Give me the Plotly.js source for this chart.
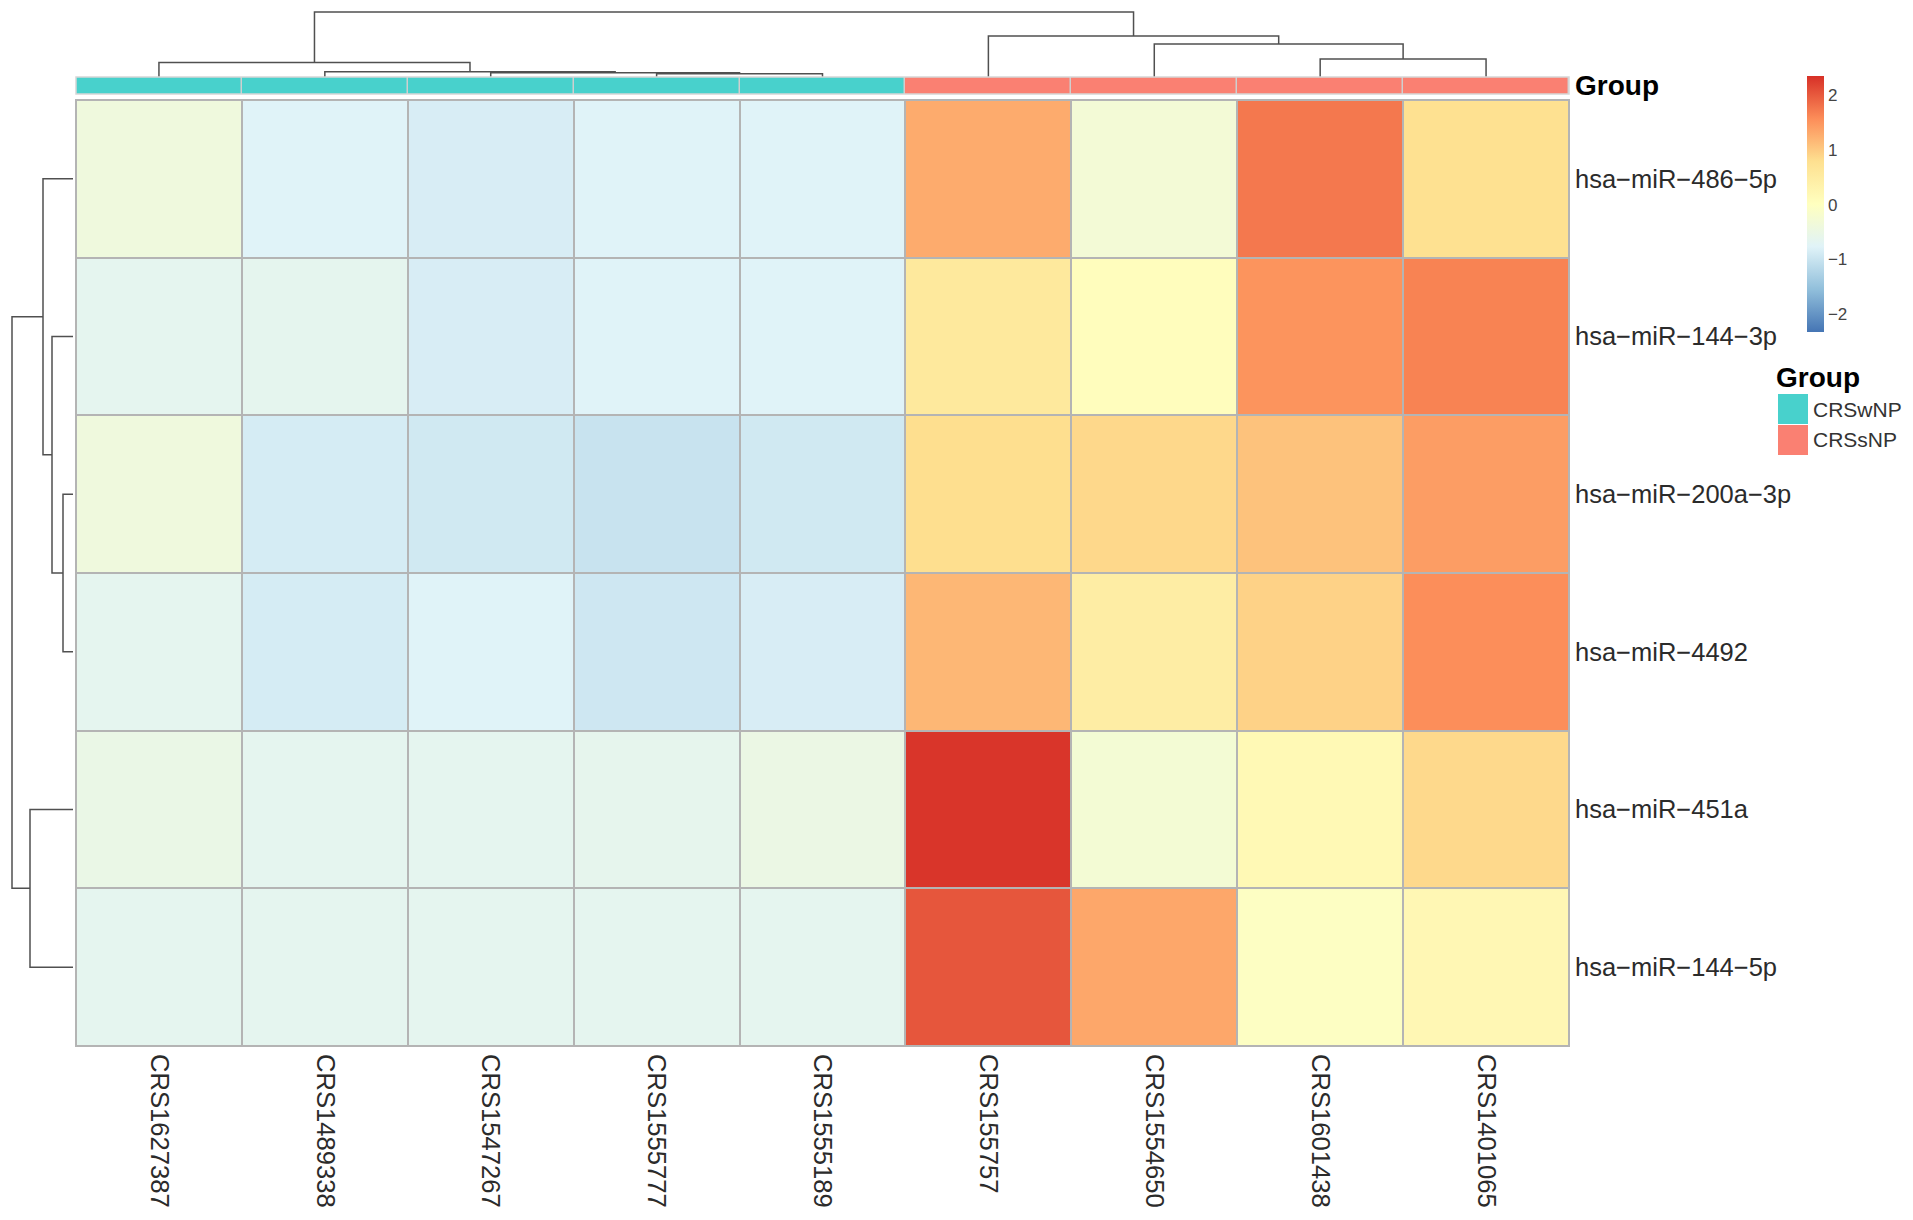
<!DOCTYPE html>
<html>
<head>
<meta charset="utf-8">
<script src="https://cdn.plot.ly/plotly-3.0.1.min.js"></script>
<style>html,body{margin:0;padding:0;background:#fff;}#chart{width:1913px;height:1220px;}</style>
</head>
<body>
<div id="chart"></div>
<script>
// ---------------- data ----------------
const colNames = ['CRS1627387','CRS1489338','CRS1547267','CRS1555777','CRS1555189','CRS155757','CRS1554650','CRS1601438','CRS1401065'];
const colGroups = ['CRSwNP','CRSwNP','CRSwNP','CRSwNP','CRSwNP','CRSsNP','CRSsNP','CRSsNP','CRSsNP'];
const groupNames = ['CRSwNP','CRSsNP'];
const groupColors = ['#48D1CC','#FA8072'];
const rowNames = ['hsa\u2212miR\u2212486\u22125p','hsa\u2212miR\u2212144\u22123p','hsa\u2212miR\u2212200a\u22123p','hsa\u2212miR\u22124492','hsa\u2212miR\u2212451a','hsa\u2212miR\u2212144\u22125p'];

const miR486_5p  = [-0.40,-0.77,-0.85,-0.77,-0.77, 1.28,-0.30, 1.74, 0.77];
const miR144_3p  = [-0.65,-0.63,-0.85,-0.77,-0.77, 0.57, 0.05, 1.50, 1.65];
const miR200a_3p = [-0.40,-0.87,-0.92,-1.00,-0.92, 0.80, 0.86, 1.07, 1.41];
const miR4492    = [-0.65,-0.87,-0.77,-0.94,-0.85, 1.17, 0.45, 0.92, 1.55];
const miR451a    = [-0.52,-0.65,-0.65,-0.62,-0.50, 2.30,-0.28, 0.17, 0.85];
const miR144_5p  = [-0.65,-0.65,-0.65,-0.65,-0.65, 2.02, 1.32,-0.05, 0.20];

// hclust-style merges: negative = leaf (1-based, display order), positive = earlier merge
const colMergeA = [-4,-3,-2,-1,-8,-7,-6,4];
const colMergeB = [-5, 1, 2, 3,-9, 5, 6,7];
const colHeights = [3.3,4.2,5.2,14.5,18,33,41,65];
const rowMergeA = [-3,-2,-1,-5,3];
const rowMergeB = [-4, 1, 2,-6,4];
const rowHeights = [10,21,30,43,61];

const colorbarTicks = [-2,-1,0,1,2];
const paletteRdYlBu = ['#4575B4','#91BFDB','#E0F3F8','#FFFFBF','#FEE090','#FC8D59','#D73027'];
const zMin = -2.32, zMax = 2.34;

// ---------------- helpers ----------------
function dendroSegments(A, B, H) {
  const pos = [], hgt = [];
  const p = i => i < 0 ? (-i - 1) : pos[i - 1];
  const h = i => i < 0 ? 0 : hgt[i - 1];
  const a = [], b = [];
  for (let k = 0; k < A.length; k++) {
    const pa = p(A[k]), pb = p(B[k]), ha = h(A[k]), hb = h(B[k]);
    a.push(pa, pa, pb, pb, null);
    b.push(ha, H[k], H[k], hb, null);
    pos.push((pa + pb) / 2); hgt.push(H[k]);
  }
  return {pos: a, h: b};
}

const W = 1913, Hpx = 1220;
const px = v => v / W, py = v => 1 - v / Hpx;
const hmL = 76, hmR = 1569, hmT = 100, hmB = 1046;
const barT = 77, barB = 94;

const zRows = [miR486_5p, miR144_3p, miR200a_3p, miR4492, miR451a, miR144_5p];
const colIdx = colNames.map((_, i) => i);
const rowIdx = rowNames.map((_, i) => i);
const cs = paletteRdYlBu.map((c, i) => [i / (paletteRdYlBu.length - 1), c]);

const colD = dendroSegments(colMergeA, colMergeB, colHeights);
const rowD = dendroSegments(rowMergeA, rowMergeB, rowHeights);

const groupZ = [colGroups.map(g => groupNames.indexOf(g))];
const groupCS = [[0, groupColors[0]], [0.5, groupColors[0]], [0.5, groupColors[1]], [1, groupColors[1]]];
const fontFam = 'Liberation Sans, Arial, Helvetica, sans-serif';

const traces = [
  {type: 'heatmap', x: colIdx, y: rowIdx, z: zRows, colorscale: cs, zmin: zMin, zmax: zMax,
   xgap: 2, ygap: 2, xaxis: 'x', yaxis: 'y', hoverinfo: 'skip',
   colorbar: {thickness: 17, len: 256, lenmode: 'pixels', x: px(1807), xanchor: 'left', xpad: 0, ypad: 0,
              y: py(76), yanchor: 'top', outlinewidth: 0, tickvals: colorbarTicks, ticks: '',
              tickfont: {family: fontFam, size: 17, color: '#444'}, ticklabelstandoff: 4}},
  {type: 'heatmap', x: colIdx, y: [0], z: groupZ, colorscale: groupCS, zmin: 0, zmax: 1, showscale: false,
   xgap: 1.5, xaxis: 'x3', yaxis: 'y3', hoverinfo: 'skip'},
  {type: 'scatter', mode: 'lines', x: colD.pos, y: colD.h, xaxis: 'x2', yaxis: 'y2',
   line: {color: '#505050', width: 1.5}, hoverinfo: 'skip', showlegend: false},
  {type: 'scatter', mode: 'lines', x: rowD.h, y: rowD.pos, xaxis: 'x4', yaxis: 'y4',
   line: {color: '#505050', width: 1.5}, hoverinfo: 'skip', showlegend: false}
];

const hidden = {visible: true, showgrid: false, zeroline: false, showticklabels: false, ticks: '', showline: false, fixedrange: true};
const xDom = [px(hmL), px(hmR)];
const yDom = [py(hmB), py(hmT)];

const shapes = [
  {type: 'rect', xref: 'x domain', yref: 'y domain', x0: 0, x1: 1, y0: 0, y1: 1, fillcolor: '#B4B4B4', line: {width: 0}, layer: 'below'},
  {type: 'rect', xref: 'x domain', yref: 'y domain', x0: 0, x1: 1, y0: 0, y1: 1, fillcolor: 'rgba(0,0,0,0)', line: {width: 2, color: '#B4B4B4'}, layer: 'above'},
  {type: 'rect', xref: 'x3 domain', yref: 'y3 domain', x0: 0, x1: 1, y0: 0, y1: 1, fillcolor: '#CFCFCF', line: {width: 0}, layer: 'below'},
  {type: 'rect', xref: 'x3 domain', yref: 'y3 domain', x0: 0, x1: 1, y0: 0, y1: 1, fillcolor: 'rgba(0,0,0,0)', line: {width: 1.5, color: '#D6D6D6'}, layer: 'above'}
];
const annotations = [
  {xref: 'paper', yref: 'paper', x: px(1573), y: py((barT + barB) / 2), xanchor: 'left', yanchor: 'middle',
   text: '<b>Group</b>', showarrow: false, font: {family: fontFam, size: 28, color: '#000'}},
  {xref: 'paper', yref: 'paper', x: px(1774), y: py(378), xanchor: 'left', yanchor: 'middle',
   text: '<b>Group</b>', showarrow: false, font: {family: fontFam, size: 28, color: '#000'}}
];
groupNames.forEach((g, i) => {
  const t = 394 + i * 31;
  shapes.push({type: 'rect', xref: 'paper', yref: 'paper', x0: px(1778), x1: px(1808), y0: py(t), y1: py(t + 30),
               fillcolor: groupColors[i], line: {width: 0}});
  annotations.push({xref: 'paper', yref: 'paper', x: px(1811), y: py(t + 15), xanchor: 'left', yanchor: 'middle',
                    text: g, showarrow: false, font: {family: fontFam, size: 21, color: '#333'}});
});

const layout = {
  width: W, height: Hpx, margin: {l: 0, r: 0, t: 0, b: 0},
  paper_bgcolor: '#fff', plot_bgcolor: 'rgba(0,0,0,0)', showlegend: false, hovermode: false,
  xaxis: {domain: xDom, range: [-0.5, colNames.length - 0.5], tickvals: colIdx, ticktext: colNames, tickangle: 90,
          ticks: '', showgrid: false, zeroline: false, showline: false, ticklabelstandoff: 7,
          tickfont: {family: fontFam, size: 25.6, color: '#2b2b2b'}, fixedrange: true},
  yaxis: {domain: yDom, range: [rowNames.length - 0.5, -0.5], tickvals: rowIdx, ticktext: rowNames, side: 'right',
          ticks: '', showgrid: false, zeroline: false, showline: false, ticklabelstandoff: 5,
          tickfont: {family: fontFam, size: 25.5, color: '#2b2b2b'}, fixedrange: true},
  xaxis2: Object.assign({}, hidden, {domain: xDom, range: [-0.5, colNames.length - 0.5], anchor: 'y2'}),
  yaxis2: Object.assign({}, hidden, {domain: [py(barT), 1], range: [0, barT], anchor: 'x2'}),
  xaxis3: Object.assign({}, hidden, {domain: xDom, range: [-0.5, colNames.length - 0.5], anchor: 'y3'}),
  yaxis3: Object.assign({}, hidden, {domain: [py(barB), py(barT)], range: [-0.5, 0.5], anchor: 'x3'}),
  xaxis4: Object.assign({}, hidden, {domain: [0, px(73)], range: [73, 0], anchor: 'y4'}),
  yaxis4: Object.assign({}, hidden, {domain: yDom, range: [rowNames.length - 0.5, -0.5], anchor: 'x4'}),
  shapes: shapes, annotations: annotations
};

Plotly.newPlot('chart', traces, layout, {displayModeBar: false, staticPlot: true});
</script>
</body>
</html>
